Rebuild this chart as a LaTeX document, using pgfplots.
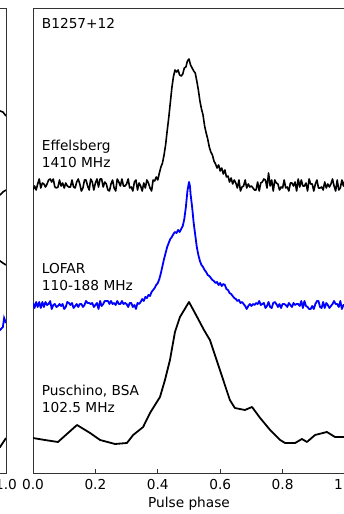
\documentclass[border=0pt]{standalone}
\usepackage{fontspec}
\setmainfont{DejaVu Sans}
\usepackage{pgfplots}
\pgfplotsset{compat=1.18}
\definecolor{mplblue}{RGB}{0,0,255}
\pgfplotsset{
  panel/.style={
    scale only axis, width=312pt, height=465pt,
    xmin=0, xmax=1, ymin=0, ymax=465,
    ytick=\empty,
    xtick={0,0.2,0.4,0.6,0.8,1.0},
    xticklabels={0.0,0.2,0.4,0.6,0.8,1.0},
    tick align=inside, tick pos=left,
    major tick length=4pt,
    axis line style={black!80, line width=0.9pt},
    tick style={black!80, line width=0.8pt},
    xticklabel style={font=\fontsize{13.7}{16}\selectfont, anchor=base, yshift=-17pt, inner sep=0pt},
    clip mode=individual,
  },
  noisy/.style={black, line width=1.6pt, line join=round, mark=none},
}
\begin{document}
\fontsize{13.7}{16.4}\selectfont
\begin{tikzpicture}
\useasboundingbox (0pt,0pt) rectangle (344pt,514pt);
% left (cut) panel
\begin{axis}[panel, at={(6pt,41pt)}, anchor=south west, xshift=-312pt,
  xtick={0,0.2,0.4,0.6,0.8,1.0}, xticklabels={,,,,,1.0}]
\addplot[noisy] coordinates {(0.960,360)(0.970,363)(0.981,362)(0.990,361)(1.000,357)};
\addplot[noisy] coordinates {(0.960,276)(0.970,279)(0.981,278)(0.990,281)(1.000,283)};
\addplot[noisy] coordinates {(0.960,210)(0.970,214)(0.981,212)(0.990,210)(1.000,208)};
\addplot[mplblue, line width=1.8pt] coordinates {(0.960,145)(0.970,142)(0.981,143)(0.990,146)(0.994,155)(1.000,150)};
\addplot[black, line width=1.8pt] coordinates {(0.960,22)(0.981,26)(1.000,35)};
\end{axis}
% main panel
\begin{axis}[panel, at={(33pt,41pt)}, anchor=south west,
  xlabel={Pulse phase},
  xlabel style={font=\fontsize{13.7}{16}\selectfont, at={(axis description cs:0.5,0)}, anchor=base, yshift=-35pt, inner sep=0pt},
]
% Effelsberg 1410 MHz
\addplot[noisy] coordinates {
(0.000,283)(0.005,287)(0.010,283)(0.015,289)(0.020,294)(0.025,285)(0.030,290)(0.035,289)(0.040,286)(0.045,289)
(0.050,293)(0.055,294)(0.060,291)(0.065,294)(0.070,286)(0.075,285)(0.080,286)(0.085,293)(0.090,287)(0.095,290)
(0.100,285)(0.105,290)(0.110,287)(0.115,286)(0.120,286)(0.125,293)(0.130,286)(0.135,285)(0.140,291)(0.145,294)
(0.150,289)(0.155,282)(0.160,285)(0.165,293)(0.170,293)(0.175,287)(0.180,283)(0.185,294)(0.190,291)(0.195,283)
(0.200,290)(0.205,294)(0.210,286)(0.215,294)(0.220,294)(0.225,286)(0.230,291)(0.235,289)(0.240,283)(0.245,282)
(0.250,289)(0.255,293)(0.260,285)(0.265,282)(0.270,294)(0.275,291)(0.280,287)(0.285,294)(0.290,287)(0.295,287)
(0.300,289)(0.305,294)(0.310,285)(0.315,286)(0.320,282)(0.325,291)(0.330,293)(0.335,283)(0.340,290)(0.345,287)
(0.350,282)(0.355,290)(0.360,285)(0.365,293)(0.370,290)(0.375,285)(0.380,282)(0.385,293)
(0.390,292)(0.395,296)(0.400,293)(0.405,300)(0.410,306)(0.415,310)(0.420,318)(0.425,328)(0.430,342)(0.435,355)
(0.440,370)(0.445,385)(0.450,396)(0.455,403)(0.460,401)(0.465,403)(0.470,398)(0.475,397)(0.480,399)(0.485,405)
(0.490,406)(0.495,412)(0.500,414)(0.505,408)(0.510,405)(0.515,402)(0.520,400)(0.525,392)(0.530,383)(0.535,372)
(0.540,364)(0.545,358)(0.550,347)(0.555,340)(0.560,334)(0.565,326)(0.570,321)(0.575,318)(0.580,312)(0.585,309)
(0.590,305)(0.595,308)(0.600,302)(0.605,305)(0.610,299)(0.615,303)(0.620,296)(0.625,297)(0.630,291)(0.635,295)(0.640,289)
(0.645,293)(0.650,290)(0.655,285)(0.660,293)(0.665,282)(0.670,286)(0.675,287)(0.680,293)(0.685,285)(0.690,289)
(0.695,286)(0.700,287)(0.705,285)(0.710,283)(0.715,283)(0.720,291)(0.725,282)(0.730,290)(0.735,291)(0.740,294)
(0.745,293)(0.750,285)(0.755,300)(0.760,287)(0.765,293)(0.770,282)(0.775,293)(0.780,290)(0.785,289)(0.790,283)
(0.795,286)(0.800,285)(0.805,293)(0.810,285)(0.815,286)(0.820,282)(0.825,290)(0.830,290)(0.835,287)(0.840,291)
(0.845,282)(0.850,294)(0.855,286)(0.860,293)(0.865,287)(0.870,287)(0.875,290)(0.880,282)(0.885,294)(0.890,289)
(0.895,289)(0.900,282)(0.905,289)(0.910,293)(0.915,285)(0.920,285)(0.925,286)(0.930,283)(0.935,291)(0.940,285)
(0.945,289)(0.950,286)(0.955,289)(0.960,294)(0.965,287)(0.970,282)(0.975,293)(0.980,283)(0.985,285)(0.990,293)
(0.995,287)(1.000,293)
};
% LOFAR 110-188 MHz
\addplot[mplblue, line width=1.8pt, line join=round] coordinates {
(0.000,170)(0.005,165)(0.010,171)(0.015,166)(0.020,171)(0.025,165)(0.030,171)(0.035,166)(0.040,171)(0.045,168)
(0.050,169)(0.055,172)(0.060,164)(0.065,168)(0.070,169)(0.075,166)(0.080,167)(0.085,169)(0.090,167)(0.095,169)
(0.100,164)(0.105,166)(0.110,171)(0.115,170)(0.120,168)(0.125,170)(0.130,165)(0.135,167)(0.140,169)(0.145,166)
(0.150,169)(0.155,169)(0.160,166)(0.165,168)(0.170,172)(0.175,170)(0.180,170)(0.185,169)(0.190,170)(0.195,166)
(0.200,168)(0.205,170)(0.210,164)(0.215,172)(0.220,167)(0.225,169)(0.230,172)(0.235,172)(0.240,172)(0.245,169)
(0.250,172)(0.255,169)(0.260,170)(0.265,168)(0.270,172)(0.275,169)(0.280,169)(0.285,172)(0.290,169)(0.295,170)
(0.300,169)(0.305,166)(0.310,170)(0.315,170)(0.320,166)(0.325,168)(0.330,164)(0.335,170)(0.340,169)
(0.345,171)(0.350,174)(0.355,172)(0.360,176)(0.365,175)(0.370,178)(0.375,177)(0.380,181)(0.385,183)(0.390,185)
(0.395,188)(0.400,190)(0.405,194)(0.410,200)(0.415,207)(0.420,214)(0.425,220)(0.430,226)(0.435,230)(0.440,234)
(0.445,236)(0.450,239)(0.455,241)(0.460,240)(0.465,243)(0.470,241)(0.475,244)(0.480,247)(0.485,254)(0.490,266)
(0.495,282)(0.500,291)(0.503,287)(0.505,279)(0.510,266)(0.515,250)(0.520,238)(0.525,226)(0.530,218)(0.535,212)
(0.540,208)(0.545,206)(0.550,203)(0.555,201)(0.560,198)(0.565,197)(0.570,195)(0.575,193)(0.580,192)(0.585,190)
(0.590,191)(0.595,188)(0.600,190)(0.605,187)(0.610,189)(0.615,188)(0.620,184)(0.625,183)(0.630,180)(0.635,179)
(0.640,177)(0.645,175)(0.650,174)(0.655,172)(0.660,173)(0.665,170)(0.670,171)
(0.675,169)(0.680,167)(0.685,164)(0.690,167)(0.695,169)(0.700,167)(0.705,169)(0.710,168)(0.715,170)(0.720,169)
(0.725,172)(0.730,168)(0.735,169)(0.740,170)(0.745,165)(0.750,167)(0.755,171)(0.760,166)(0.765,165)(0.770,170)
(0.775,171)(0.780,169)(0.785,166)(0.790,169)(0.795,165)(0.800,169)(0.805,169)(0.810,168)(0.815,166)(0.820,170)
(0.825,168)(0.830,166)(0.835,170)(0.840,168)(0.845,169)(0.850,169)(0.855,167)(0.860,172)(0.865,165)(0.870,172)
(0.875,167)(0.880,166)(0.885,164)(0.890,164)(0.895,167)(0.900,164)(0.905,169)(0.910,172)(0.915,172)(0.920,166)
(0.925,165)(0.930,171)(0.935,165)(0.940,170)(0.945,168)(0.950,165)(0.955,167)(0.960,169)(0.965,172)(0.970,169)
(0.975,169)(0.980,166)(0.985,172)(0.990,164)(0.995,168)(1.000,167)
};
% Puschino, BSA 102.5 MHz
\addplot[black, line width=1.8pt, line join=round] coordinates {
(0.000,35)(0.038,33)(0.080,31)(0.141,48)(0.183,40)(0.215,33)(0.263,29)(0.301,30)(0.321,38)(0.353,46)
(0.375,60)(0.407,76)(0.423,93)(0.439,113)(0.455,141)(0.471,156)(0.500,171)(0.526,156)(0.548,143)(0.567,133)
(0.599,103)(0.631,73)(0.647,65)(0.679,63)(0.702,66)(0.728,55)(0.760,43)(0.792,33)(0.808,30)(0.840,30)
(0.862,34)(0.878,31)(0.904,38)(0.942,41)(0.968,36)(1.000,36)
};
\node[anchor=base west, inner sep=0pt] at (axis cs:0.028,444) {B1257+12};
\node[anchor=base west, inner sep=0pt] at (axis cs:0.028,322) {Effelsberg};
\node[anchor=base west, inner sep=0pt] at (axis cs:0.028,305) {1410 MHz};
\node[anchor=base west, inner sep=0pt] at (axis cs:0.028,199) {LOFAR};
\node[anchor=base west, inner sep=0pt] at (axis cs:0.028,182) {110-188 MHz};
\node[anchor=base west, inner sep=0pt] at (axis cs:0.028,77) {Puschino, BSA};
\node[anchor=base west, inner sep=0pt] at (axis cs:0.028,60) {102.5 MHz};
\end{axis}
\end{tikzpicture}
\end{document}
